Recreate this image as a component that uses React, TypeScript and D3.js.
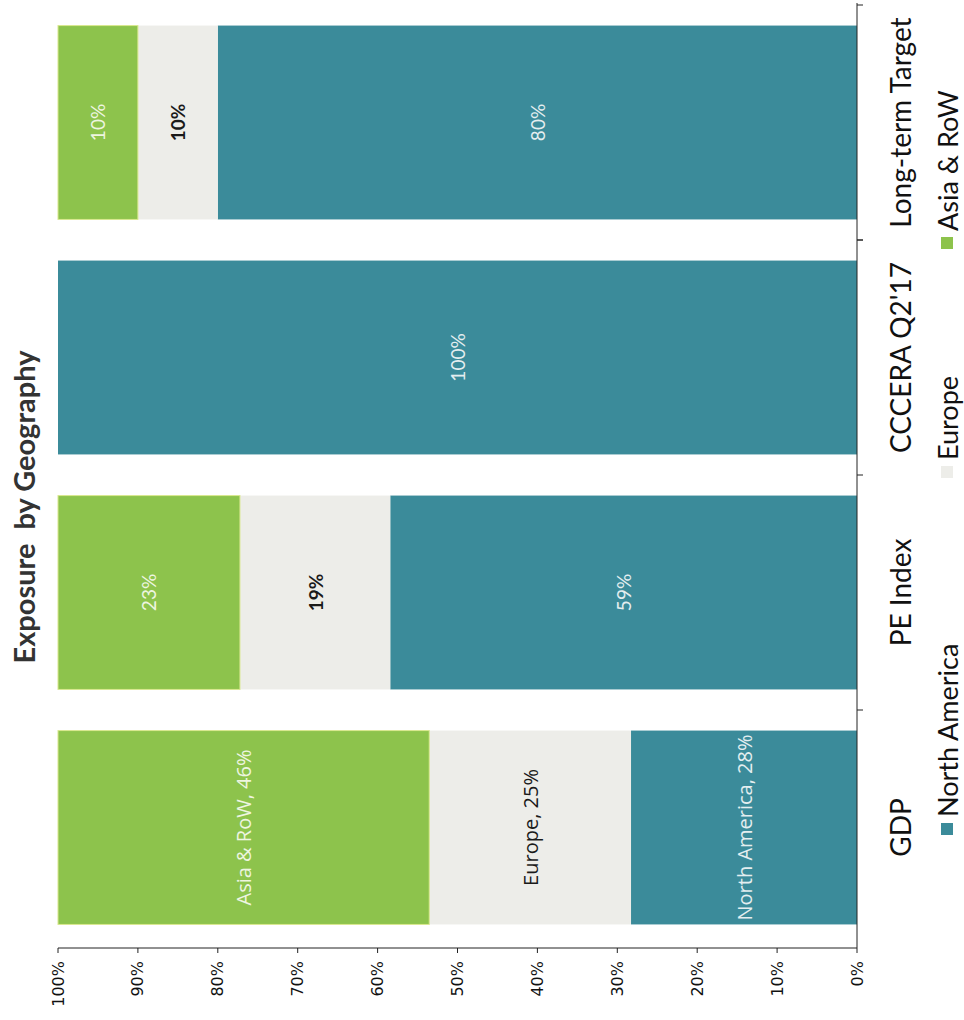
import React from "react";
import * as d3 from "d3";

const categories = ["GDP", "PE Index", "CCCERA Q2'17", "Long-term Target"];
const seriesNames = ["North America", "Europe", "Asia & RoW"];
const northAmerica = [28, 59, 100, 80];
const europe = [25, 19, 0, 10];
const asiaRoW = [46, 23, 0, 10];
const labelNorthAmerica = ["North America, 28%", "59%", "100%", "80%"];
const labelEurope = ["Europe, 25%", "19%", "", "10%"];
const labelAsia = ["Asia & RoW, 46%", "23%", "", "10%"];
const tickValues = [0, 0.1, 0.2, 0.3, 0.4, 0.5, 0.6, 0.7, 0.8, 0.9, 1];
const tickLabels = ["0%", "10%", "20%", "30%", "40%", "50%", "60%", "70%", "80%", "90%", "100%"];

const colors: Record<string, string> = {
  "North America": "#3b8b9a",
  Europe: "#edede9",
  "Asia & RoW": "#8dc34c",
};
const labelColors: Record<string, string> = {
  "North America": "#e4eef0",
  Europe: "#1a1a1a",
  "Asia & RoW": "#eef5e0",
};

export default function App() {
  const W = 964;
  const H = 1020;
  const axisX = 857;
  const axisY = 948;
  const x = d3.scaleLinear().domain([0, 1]).range([axisX, 58]);
  const y = d3
    .scaleBand<string>()
    .domain(categories)
    .range([945, 5])
    .paddingInner(0.175)
    .paddingOuter(0.0875);

  const rows = categories.map((c, i) => ({
    cat: c,
    "North America": northAmerica[i],
    Europe: europe[i],
    "Asia & RoW": asiaRoW[i],
  }));
  const stack = d3
    .stack<any>()
    .keys(seriesNames)
    .offset(d3.stackOffsetExpand);
  const stacked = stack(rows);
  const labels: Record<string, string[]> = {
    "North America": labelNorthAmerica,
    Europe: labelEurope,
    "Asia & RoW": labelAsia,
  };

  const step = y.step();
  const bandEdges = categories.map((c) => (y(c) as number) - (step - y.bandwidth()) / 2);
  bandEdges.push(bandEdges[bandEdges.length - 1] + step);

  const legendPos = [829, 472, 243];

  return (
    <svg width={W} height={H} style={{ display: "block", position: "absolute", left: 0, top: 0 }}>
      <rect x={0} y={0} width={W} height={H} fill="#ffffff" />
      {/* title */}
      <text
        transform={`translate(23,507) rotate(-90)`}
        textAnchor="middle"
        dominantBaseline="central"
        fontFamily="Lato, 'Open Sans', sans-serif"
        fontWeight="bold"
        fontSize={29}
        fill="#333"
        style={{ whiteSpace: "pre" }}
      >
        {"Exposure  by Geography"}
      </text>

      {/* bars */}
      {stacked.map((s) => (
        <g key={s.key}>
          {s.map((d, i) => {
            const x0 = x(d[0]);
            const x1 = x(d[1]);
            if (Math.abs(x0 - x1) < 0.5) return null;
            const yy = y(categories[i]) as number;
            return (
              <rect
                key={i}
                x={Math.min(x0, x1)}
                y={yy}
                width={Math.abs(x0 - x1)}
                height={y.bandwidth()}
                fill={colors[s.key]}
                stroke={s.key === "Asia & RoW" ? "#d9e88e" : "none"}
                strokeWidth={s.key === "Asia & RoW" ? 1 : 0}
              />
            );
          })}
        </g>
      ))}

      {/* data labels */}
      {stacked.map((s) => (
        <g key={"l" + s.key}>
          {s.map((d, i) => {
            const txt = labels[s.key][i];
            if (!txt) return null;
            const cx = (x(d[0]) + x(d[1])) / 2;
            const cy = (y(categories[i]) as number) + y.bandwidth() / 2;
            const isEurope = s.key === "Europe";
            return (
              <text
                key={i}
                transform={`translate(${cx},${cy}) rotate(-90)`}
                textAnchor="middle"
                dominantBaseline="central"
                fontFamily={i === 0 ? "'Open Sans', sans-serif" : "Lato, sans-serif"}
                fontSize={i === 0 ? 20 : 19}
                fontWeight={isEurope && i > 0 ? "bold" : "normal"}
                fill={labelColors[s.key]}
              >
                {txt}
              </text>
            );
          })}
        </g>
      ))}

      {/* value axis */}
      <line x1={x(1)} x2={axisX} y1={axisY} y2={axisY} stroke="#222" strokeWidth={1} />
      {tickValues.map((t, i) => (
        <g key={"t" + i}>
          <line x1={x(t)} x2={x(t)} y1={axisY} y2={axisY + 5} stroke="#222" strokeWidth={1} />
          <text
            transform={`translate(${x(t)},${axisY + 13}) rotate(-90)`}
            textAnchor="end"
            dominantBaseline="central"
            fontFamily="'DejaVu Sans', Verdana, sans-serif"
            fontSize={16}
            fill="#111"
          >
            {tickLabels[i]}
          </text>
        </g>
      ))}

      {/* category axis */}
      <line x1={axisX} x2={axisX} y1={3} y2={axisY} stroke="#222" strokeWidth={1} />
      {bandEdges.map((e, i) => (
        <line key={"c" + i} x1={axisX} x2={axisX + 6} y1={e} y2={e} stroke="#222" strokeWidth={1} />
      ))}
      {categories.map((c) => (
        <text
          key={"cl" + c}
          transform={`translate(900,${(y(c) as number) + y.bandwidth() / 2}) rotate(-90)`}
          textAnchor="middle"
          dominantBaseline="central"
          fontFamily="Lato, sans-serif"
          fontSize={28}
          fill="#111"
        >
          {c}
        </text>
      ))}

      {/* legend */}
      {seriesNames.map((n, i) => (
        <g key={"lg" + n} transform={`translate(947,${legendPos[i]})`}>
          <rect x={-6} y={-6} width={12} height={12} fill={colors[n]} />
          <text
            transform={`translate(0,-12) rotate(-90)`}
            textAnchor="start"
            dominantBaseline="central"
            fontFamily="Lato, sans-serif"
            fontSize={27}
            fill="#111"
          >
            {n}
          </text>
        </g>
      ))}
    </svg>
  );
}
